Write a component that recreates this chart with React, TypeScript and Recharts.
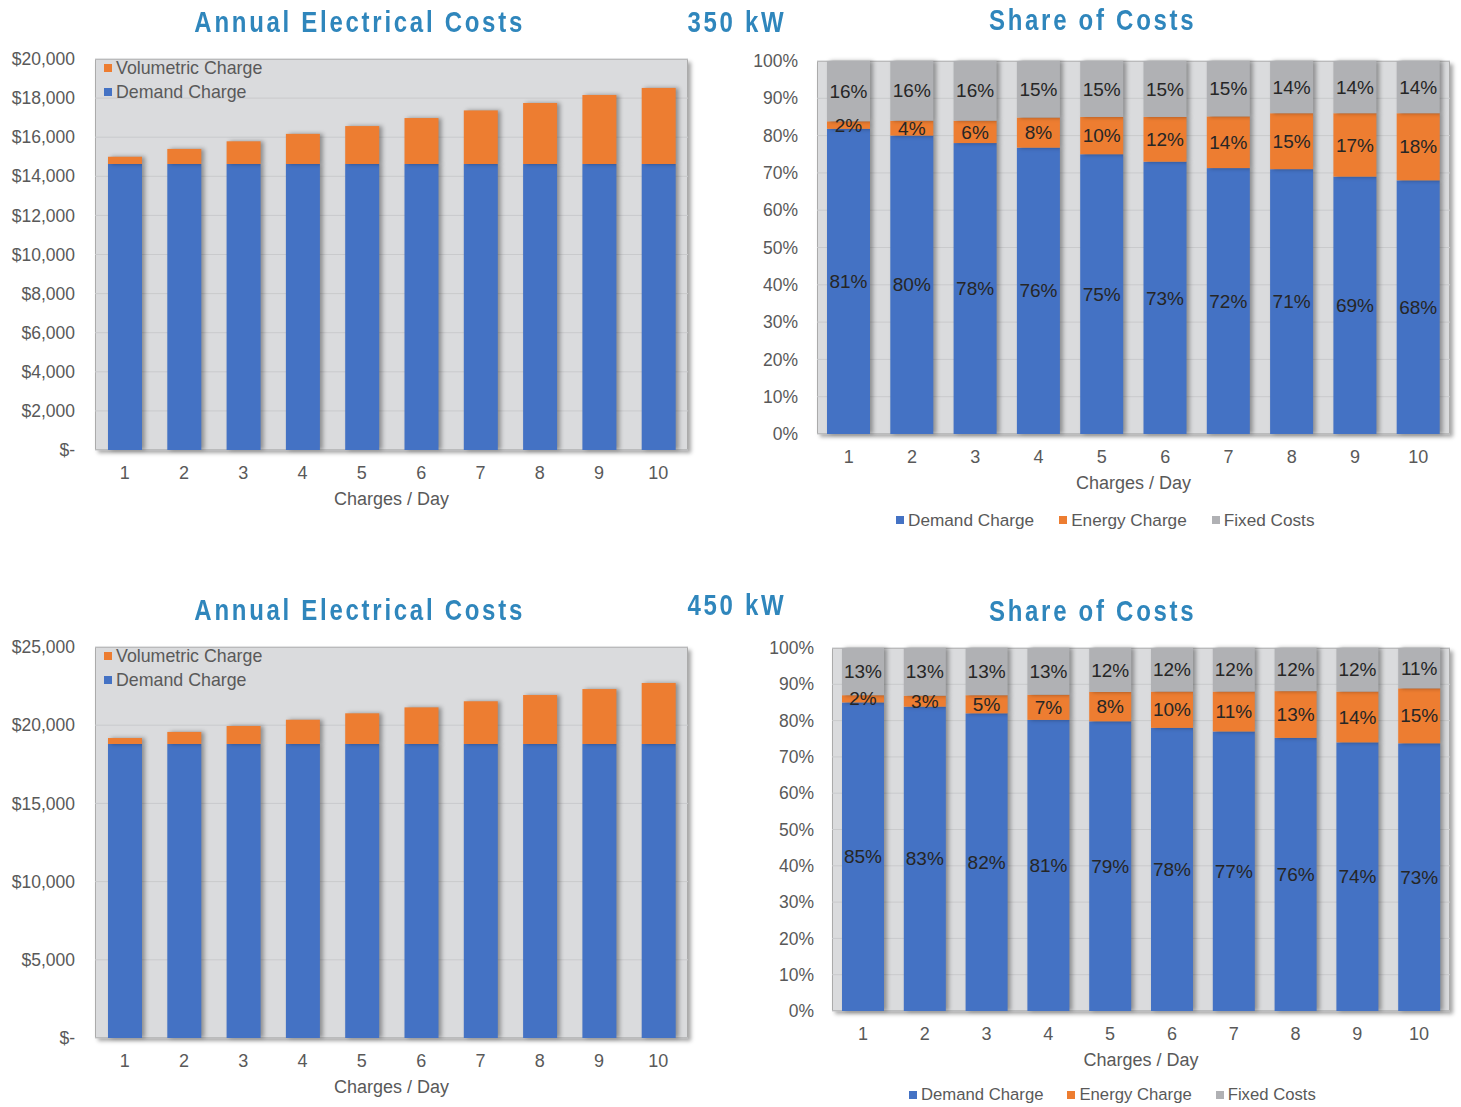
import React from 'react';
import { BarChart, Bar, XAxis, YAxis, CartesianGrid, Legend, LabelList } from 'recharts';

// ---------- data ----------
const chargesPerDay = ['1', '2', '3', '4', '5', '6', '7', '8', '9', '10'];

const demand350 = [14630, 14630, 14630, 14630, 14630, 14630, 14630, 14630, 14630, 14630];
const volumetric350 = [370, 770, 1160, 1540, 1940, 2350, 2740, 3120, 3530, 3890];

const demand450 = [18800, 18800, 18800, 18800, 18800, 18800, 18800, 18800, 18800, 18800];
const volumetric450 = [380, 770, 1150, 1550, 1960, 2340, 2730, 3130, 3510, 3900];

const shareDemand350 = [81, 80, 78, 76, 75, 73, 72, 71, 69, 68];
const shareEnergy350 = [2, 4, 6, 8, 10, 12, 14, 15, 17, 18];
const shareFixed350 = [16, 16, 16, 15, 15, 15, 15, 14, 14, 14];

const shareDemand450 = [85, 83, 82, 81, 79, 78, 77, 76, 74, 73];
const shareEnergy450 = [2, 3, 5, 7, 8, 10, 11, 13, 14, 15];
const shareFixed450 = [13, 13, 13, 13, 12, 12, 12, 12, 12, 11];

const costTicks350 = [0, 2000, 4000, 6000, 8000, 10000, 12000, 14000, 16000, 18000, 20000];
const costTicks450 = [0, 5000, 10000, 15000, 20000, 25000];
const pctTicks = [0, 0.1, 0.2, 0.3, 0.4, 0.5, 0.6, 0.7, 0.8, 0.9, 1];

const costData350 = chargesPerDay.map((d, i) => ({ day: d, demand: demand350[i], volumetric: volumetric350[i] }));
const costData450 = chargesPerDay.map((d, i) => ({ day: d, demand: demand450[i], volumetric: volumetric450[i] }));
const shareData350 = chargesPerDay.map((d, i) => ({ day: d, demand: shareDemand350[i], energy: shareEnergy350[i], fixed: shareFixed350[i] }));
const shareData450 = chargesPerDay.map((d, i) => ({ day: d, demand: shareDemand450[i], energy: shareEnergy450[i], fixed: shareFixed450[i] }));

// ---------- styles ----------
const BLUE = '#4472C4';
const ORANGE = '#ED7D31';
const GRAY = '#B0B1B4';
const TEXT = '#595959';
const TITLE = '#2F86BC';
const PLOT_BG = '#DADBDD';
const FONT = "'Liberation Sans', Arial, sans-serif";
const TITLE_FONT = "'Liberation Sans', Arial, sans-serif";

const fmtDollar = (v: number) => (v === 0 ? '$-' : '$' + v.toLocaleString('en-US'));
const fmtPct = (v: number) => Math.round(v * 100) + '%';

const ShadowRect = (props: any) => {
  const { x, y, width, height, fill } = props;
  if (!height || height <= 0) return null;
  return (
    <rect
      x={x}
      y={y}
      width={width}
      height={height}
      fill={fill}
      style={{ filter: 'drop-shadow(3px 0px 2px rgba(0,0,0,0.35))' }}
    />
  );
};

const makeYTick = (textX: number, fmt: (v: number) => string) => (props: any) => (
  <text x={textX} y={props.y} dy="0.35em" textAnchor="end" fill={TEXT} fontSize={17.5}>
    {fmt(props.payload.value)}
  </text>
);

const makeXTick = (textY: number) => (props: any) => (
  <text x={props.x} y={textY} dy="0.35em" textAnchor="middle" fill={TEXT} fontSize={18}>
    {props.payload.value}
  </text>
);

const makePctLabel = (arr: number[]) => (props: any) => {
  const vb = props.viewBox && props.viewBox.width !== undefined ? props.viewBox : props;
  const { x, y, width, height } = vb;
  const idx = props.index;
  if (x === undefined || idx === undefined) return null;
  return (
    <text x={x + width / 2} y={y + height / 2} dy="0.35em" textAnchor="middle" fill="#262626" fontSize={19}>
      {arr[idx]}%
    </text>
  );
};

const makeLegend = (order: string[], vertical: boolean, fontSize: number, gap: number) => (props: any) => {
  const payload = props.payload || [];
  const items = order.map((n) => payload.find((p: any) => p.value === n)).filter(Boolean);
  return (
    <div style={{ display: 'flex', flexDirection: vertical ? 'column' : 'row', fontFamily: FONT }}>
      {items.map((it: any) => (
        <div
          key={it.value}
          style={{ display: 'flex', alignItems: 'center', height: vertical ? 24 : 20, marginRight: vertical ? 0 : gap }}
        >
          <span style={{ width: 8, height: 8, background: it.color, marginRight: 4, display: 'inline-block' }} />
          <span style={{ color: TEXT, fontSize, whiteSpace: 'nowrap' }}>{it.value}</span>
        </div>
      ))}
    </div>
  );
};

const Title = ({ text, cx, cy }: { text: string; cx: number; cy: number }) => (
  <div
    style={{
      position: 'absolute',
      left: cx - 250,
      width: 500,
      top: cy - 15,
      height: 30,
      lineHeight: '30px',
      textAlign: 'center',
      whiteSpace: 'nowrap',
    }}
  >
    <span
      style={{
        display: 'inline-block',
        fontFamily: TITLE_FONT,
        fontWeight: 'bold',
        fontSize: 30,
        letterSpacing: 3.4,
        color: TITLE,
        transform: 'scaleX(0.8)',
        transformOrigin: 'center',
      }}
    >
      {text}
    </span>
  </div>
);

const Frame = ({ left, top, width, height }: any) => (
  <div
    style={{
      position: 'absolute',
      left,
      top,
      width,
      height,
      boxSizing: 'border-box',
      background: PLOT_BG,
      border: '1px solid #ABABAB',
      boxShadow: '3px 3px 4px rgba(0,0,0,0.35)',
    }}
  />
);

// ---------- cost chart ----------
type CostProps = { top: number; data: any[]; ticks: number[]; yMax: number };

const CostChart = ({ top, data, ticks, yMax }: CostProps) => {
  const W = 700;
  const H = 520;
  const plotLeft = 95;
  const plotRight = 688;
  const plotTop = 59;
  const plotBottom = 450;
  const xAxisH = 60;
  return (
    <div style={{ position: 'absolute', left: 0, top, width: W, height: H }}>
      <Title text="Annual Electrical Costs" cx={360} cy={plotTop - 37} />
      <Frame left={plotLeft} top={plotTop} width={plotRight - plotLeft} height={plotBottom - plotTop} />
      <div style={{ position: 'absolute', left: 0, top: 0 }}>
        <BarChart
          width={W}
          height={H}
          data={data}
          margin={{ top: plotTop, right: W - plotRight, bottom: H - plotBottom - xAxisH, left: 0 }}
        >
          <CartesianGrid vertical={false} stroke="#C9CACC" />
          <XAxis
            dataKey="day"
            height={xAxisH}
            tickLine={false}
            axisLine={false}
            interval={0}
            tick={makeXTick(plotBottom + 23)}
            label={{ value: 'Charges / Day', position: 'insideBottom', offset: 5, fill: TEXT, fontSize: 18 }}
          />
          <YAxis
            width={plotLeft}
            domain={[0, yMax]}
            ticks={ticks}
            interval={0}
            tickLine={false}
            axisLine={false}
            tick={makeYTick(75, fmtDollar)}
          />
          <Legend
            layout="horizontal"
            verticalAlign="middle"
            align="center"
            wrapperStyle={{ left: 104, top: plotTop - 3, width: 200, height: 50 }}
            content={makeLegend(['Volumetric Charge', 'Demand Charge'], true, 17.8, 0)}
          />
          <Bar dataKey="demand" name="Demand Charge" stackId="c" fill={BLUE} barSize={34} isAnimationActive={false} shape={ShadowRect} />
          <Bar dataKey="volumetric" name="Volumetric Charge" stackId="c" fill={ORANGE} barSize={34} isAnimationActive={false} shape={ShadowRect} />
        </BarChart>
      </div>
    </div>
  );
};

// ---------- share chart ----------
type ShareProps = {
  top: number;
  height: number;
  data: any[];
  plotLeft: number;
  plotTop: number;
  plotBottom: number;
  yLabelX: number;
  barSize: number;
  titleY: number;
  legendLeft: number;
  legendTop: number;
  legendFont: number;
  legendGap: number;
  demandArr: number[];
  energyArr: number[];
  fixedArr: number[];
};

const ShareChart = (p: ShareProps) => {
  const W = 741;
  const H = p.height;
  const plotRight = 730;
  const xAxisH = 60;
  return (
    <div style={{ position: 'absolute', left: 720, top: p.top, width: W, height: H }}>
      <Title text="Share of Costs" cx={373} cy={p.titleY} />
      <Frame left={p.plotLeft} top={p.plotTop} width={plotRight - p.plotLeft} height={p.plotBottom - p.plotTop} />
      <div style={{ position: 'absolute', left: 0, top: 0 }}>
        <BarChart
          width={W}
          height={H}
          data={p.data}
          stackOffset="expand"
          margin={{ top: p.plotTop, right: W - plotRight, bottom: H - p.plotBottom - xAxisH, left: 0 }}
        >
          <CartesianGrid vertical={false} stroke="#C9CACC" />
          <XAxis
            dataKey="day"
            height={xAxisH}
            tickLine={false}
            axisLine={false}
            interval={0}
            tick={makeXTick(p.plotBottom + 23)}
            label={{ value: 'Charges / Day', position: 'insideBottom', offset: 5, fill: TEXT, fontSize: 18 }}
          />
          <YAxis
            width={p.plotLeft}
            domain={[0, 1]}
            ticks={pctTicks}
            interval={0}
            tickLine={false}
            axisLine={false}
            tick={makeYTick(p.yLabelX, fmtPct)}
          />
          <Legend
            layout="horizontal"
            verticalAlign="middle"
            align="center"
            wrapperStyle={{ left: p.legendLeft, top: p.legendTop, width: 500, height: 20 }}
            content={makeLegend(['Demand Charge', 'Energy Charge', 'Fixed Costs'], false, p.legendFont, p.legendGap)}
          />
          <Bar dataKey="demand" name="Demand Charge" stackId="s" fill={BLUE} barSize={p.barSize} isAnimationActive={false} shape={ShadowRect}>
            <LabelList content={makePctLabel(p.demandArr)} />
          </Bar>
          <Bar dataKey="energy" name="Energy Charge" stackId="s" fill={ORANGE} barSize={p.barSize} isAnimationActive={false} shape={ShadowRect}>
            <LabelList content={makePctLabel(p.energyArr)} />
          </Bar>
          <Bar dataKey="fixed" name="Fixed Costs" stackId="s" fill={GRAY} barSize={p.barSize} isAnimationActive={false} shape={ShadowRect}>
            <LabelList content={makePctLabel(p.fixedArr)} />
          </Bar>
        </BarChart>
      </div>
    </div>
  );
};

export default function App() {
  return (
    <div
      style={{
        position: 'absolute',
        left: 0,
        top: 0,
        width: 1461,
        height: 1107,
        background: '#fff',
        fontFamily: FONT,
        overflow: 'hidden',
      }}
    >
      <CostChart top={0} data={costData350} ticks={costTicks350} yMax={20000} />
      <CostChart top={588} data={costData450} ticks={costTicks450} yMax={25000} />
      <Title text="350 kW" cx={737} cy={22} />
      <Title text="450 kW" cx={737} cy={605} />
      <ShareChart
        top={0}
        height={560}
        data={shareData350}
        plotLeft={97}
        plotTop={61}
        plotBottom={434}
        yLabelX={78}
        barSize={43}
        titleY={20}
        legendLeft={176}
        legendTop={510}
        legendFont={17.2}
        legendGap={25}
        demandArr={shareDemand350}
        energyArr={shareEnergy350}
        fixedArr={shareFixed350}
      />
      <ShareChart
        top={588}
        height={519}
        data={shareData450}
        plotLeft={112}
        plotTop={60}
        plotBottom={423}
        yLabelX={94}
        barSize={42}
        titleY={23}
        legendLeft={189}
        legendTop={497}
        legendFont={16.7}
        legendGap={24}
        demandArr={shareDemand450}
        energyArr={shareEnergy450}
        fixedArr={shareFixed450}
      />
    </div>
  );
}
